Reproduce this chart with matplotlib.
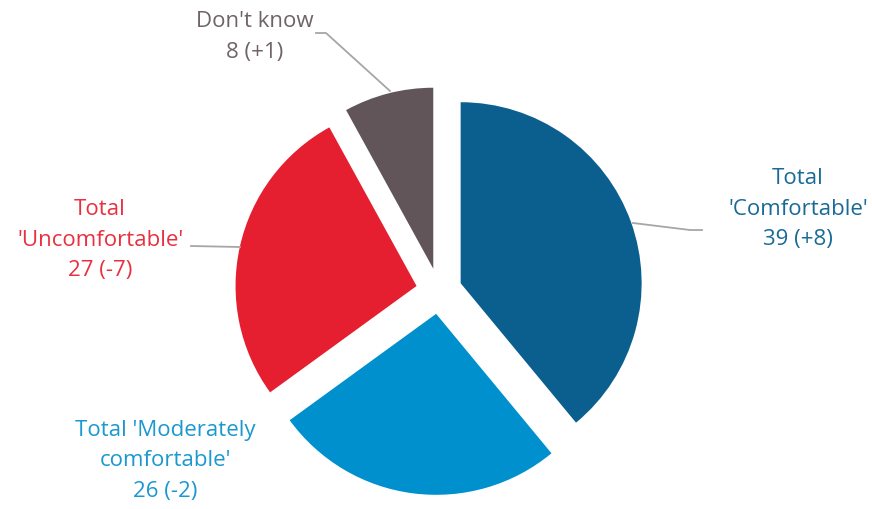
import matplotlib
matplotlib.use("Agg")
import matplotlib.pyplot as plt

categories = ["Total\n'Comfortable'", "Total 'Moderately\ncomfortable'", "Total\n'Uncomfortable'", "Don't know"]
values = [39, 26, 27, 8]
changes = ["+8", "-2", "-7", "+1"]
colors = ["#0B5F8F", "#0090CE", "#E51F30", "#625559"]
text_colors = ["#1A6A97", "#1B98D0", "#E8303F", "#6E6468"]

plt.rcParams['font.family'] = ['Open Sans', 'DejaVu Sans']

W, H = 872, 509
fig = plt.figure(figsize=(W / 100, H / 100), dpi=100)
ax = fig.add_axes([0, 0, 1, 1])

cx, cy, R, ex = 439, H - 291, 181, 23
ax.pie(values, colors=colors, startangle=90, counterclock=False,
       center=(cx, cy), radius=R, explode=[ex] * len(values),
       wedgeprops=dict(linewidth=0))
ax.set_xlim(0, W)
ax.set_ylim(0, H)
ax.set_aspect('auto')
ax.axis('off')

fs = 16.0
labels = [f"{c}\n{v} ({d})" for c, v, d in zip(categories, values, changes)]
pos = [(798, 209), (165, 461), (100, 240), (255, 37)]
for (x, y), lab, col in zip(pos, labels, text_colors):
    ax.text(x, H - y, lab, ha='center', va='center', fontsize=fs,
            color=col, linespacing=1.62)

lc = "#A6A6A6"
ax.plot([633, 690, 702], [H - 223, H - 230, H - 230], color=lc, lw=1.3)
ax.plot([191, 240], [H - 246, H - 247], color=lc, lw=1.3)
ax.plot([316, 326, 390], [H - 33, H - 33, H - 91], color=lc, lw=1.3)

fig.savefig("out.png", dpi=100)
